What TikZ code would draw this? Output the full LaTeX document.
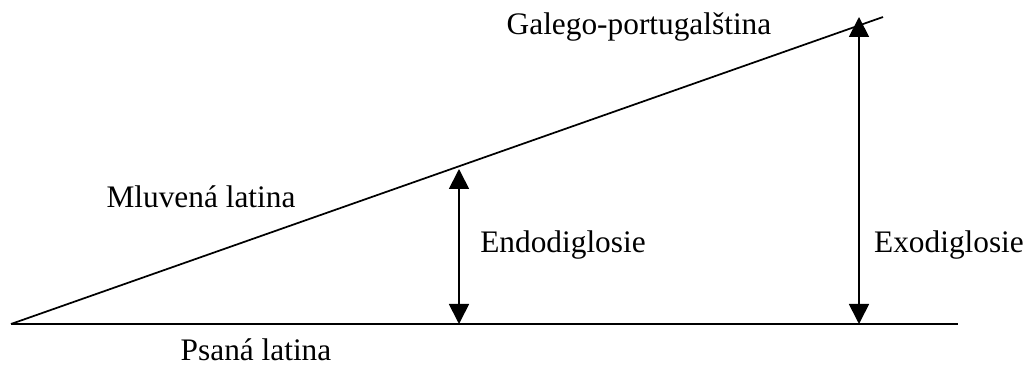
\documentclass[tikz,border=0pt]{standalone}
\usepackage{fontspec}
\setmainfont{Liberation Serif}
\usepackage{tikz}
\usetikzlibrary{arrows.meta,positioning,calc}

\begin{document}
\begin{tikzpicture}[x=0.75pt, y=-0.75pt, line width=1.3pt,
  font=\fontsize{23.5}{26}\selectfont,
  lbl/.style={inner sep=0pt, anchor=base},
  seta/.style={{Triangle[length=15pt,width=15pt]}-{Triangle[length=15pt,width=15pt]}}]
  \useasboundingbox (0,0) rectangle (1033,367);
  \coordinate (o) at (11,324);
  \coordinate (h) at (958,324);
  \coordinate (d) at (883,17);
  \draw (o) -- (h);
  \draw (o) -- (d);
  \coordinate (b1) at (459,324);
  \coordinate (t1) at (459,169);
  \coordinate (b2) at (859,324);
  \coordinate (t2) at (859,17);
  \draw[seta] (b1) -- (t1);
  \draw[seta] (b2) -- (t2);
  \node[lbl] (galego) at (639,35) {Galego-portugalština};
  \node[lbl] (mluv) at (201,208) {Mluvená latina};
  \node[lbl] (endo) at (563,253) {Endodiglosie};
  \node[lbl] (exo) at (949,253) {Exodiglosie};
  \node[lbl] (psana) at (256,361) {Psaná latina};
\end{tikzpicture}
\end{document}
